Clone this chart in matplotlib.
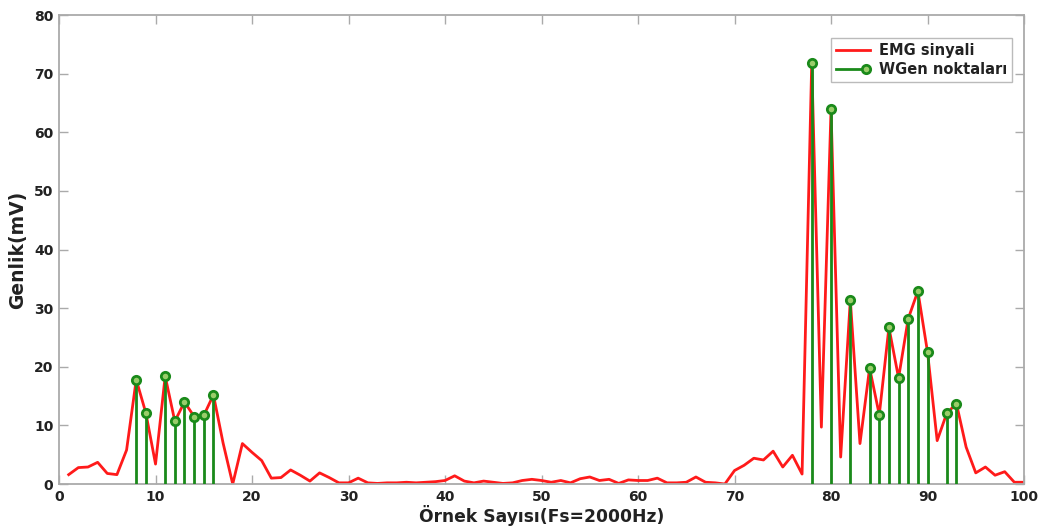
import matplotlib
matplotlib.use("Agg")
import matplotlib.pyplot as plt
from matplotlib.lines import Line2D
from matplotlib.legend_handler import HandlerBase

# Sample index 1..100
samples = list(range(1, 101))
emg = [1.6, 2.8, 2.9, 3.7, 1.8, 1.6, 5.8, 17.8, 12.1, 3.4,
       18.4, 10.7, 14.0, 11.5, 11.7, 15.2, 7.0, 0.0, 6.9, 5.4,
       4.0, 1.0, 1.1, 2.4, 1.5, 0.5, 1.9, 1.1, 0.2, 0.2,
       1.0, 0.2, 0.1, 0.2, 0.2, 0.3, 0.2, 0.3, 0.4, 0.6,
       1.4, 0.5, 0.2, 0.5, 0.3, 0.1, 0.2, 0.6, 0.8, 0.6,
       0.3, 0.6, 0.2, 0.9, 1.2, 0.6, 0.8, 0.1, 0.7, 0.6,
       0.6, 1.0, 0.2, 0.2, 0.3, 1.2, 0.3, 0.2, 0.0, 2.3,
       3.2, 4.4, 4.1, 5.6, 2.9, 4.9, 1.7, 71.8, 9.7, 63.9,
       4.6, 31.4, 6.9, 19.8, 11.8, 26.7, 18.1, 28.2, 32.9, 22.5,
       7.4, 12.1, 13.7, 6.3, 1.9, 2.9, 1.5, 2.1, 0.3, 0.3]

wgen_x = [8, 9, 11, 12, 13, 14, 15, 16,
          78, 80, 82, 84, 85, 86, 87, 88, 89, 90, 92, 93]
wgen_y = [emg[i - 1] for i in wgen_x]

x_ticks = list(range(0, 101, 10))
y_ticks = list(range(0, 81, 10))

RED = '#ff1a1a'
GREEN = '#1a8a1a'
MFACE = '#9acd6a'
TXT = '#222222'
AXC = '#aaaaaa'

plt.rcParams['font.family'] = ['DejaVu Sans']
plt.rcParams['font.weight'] = 'bold'

fig = plt.figure(figsize=(10.43, 5.32), dpi=100)
ax = fig.add_axes([0.0566, 0.0902, 0.9252, 0.8816])

ax.plot(samples, emg, color=RED, lw=2.0, label='EMG sinyali', zorder=2)
ml, sl, bl = ax.stem(wgen_x, wgen_y, linefmt='-', markerfmt='o', basefmt=' ')
plt.setp(sl, color=GREEN, lw=2.0, zorder=3)
plt.setp(ml, markeredgecolor=GREEN, markerfacecolor=MFACE,
         markersize=6, markeredgewidth=2.0, zorder=4)


class StemHandle:
    pass


class StemHandler(HandlerBase):
    def create_artists(self, legend, orig_handle, xdescent, ydescent,
                       width, height, fontsize, trans):
        y = height / 2 - ydescent
        line = Line2D([-xdescent, width - xdescent - 3], [y, y],
                      color=GREEN, lw=2.0)
        mk = Line2D([width - xdescent - 3], [y], marker='o', markersize=6,
                    markeredgecolor=GREEN, markerfacecolor=MFACE,
                    markeredgewidth=2.0, linestyle='none')
        line.set_transform(trans)
        mk.set_transform(trans)
        return [line, mk]


ax.set_xlim(0, 100)
ax.set_ylim(0, 80)
ax.set_xticks(x_ticks)
ax.set_yticks(y_ticks)
ax.tick_params(direction='in', top=True, right=True, length=6.5, width=1.0,
               color=AXC, labelsize=10, pad=4)
for lab in ax.get_xticklabels() + ax.get_yticklabels():
    lab.set_fontweight('bold')
    lab.set_color(TXT)
for s in ax.spines.values():
    s.set_color(AXC)
    s.set_linewidth(1.3)

ax.set_xlabel('Örnek Sayısı(Fs=2000Hz)', fontsize=12.3, fontweight='bold',
              color=TXT, labelpad=1)
ax.set_ylabel('Genlik(mV)', fontsize=13.5, fontweight='bold',
              color=TXT, labelpad=5)

handles = [ax.get_lines()[0], StemHandle()]
labels = ['EMG sinyali', 'WGen noktaları']
leg = ax.legend(handles, labels, handler_map={StemHandle: StemHandler()},
                loc='upper right', bbox_to_anchor=(0.9876, 0.952),
                fontsize=10.5, frameon=True, fancybox=False,
                edgecolor=AXC, borderpad=0.35, handlelength=2.3,
                handletextpad=0.6, labelspacing=0.3, borderaxespad=0)
leg.get_frame().set_linewidth(1.0)
for t in leg.get_texts():
    t.set_fontweight('bold')
    t.set_color(TXT)

fig.savefig('out.png', dpi=100)
